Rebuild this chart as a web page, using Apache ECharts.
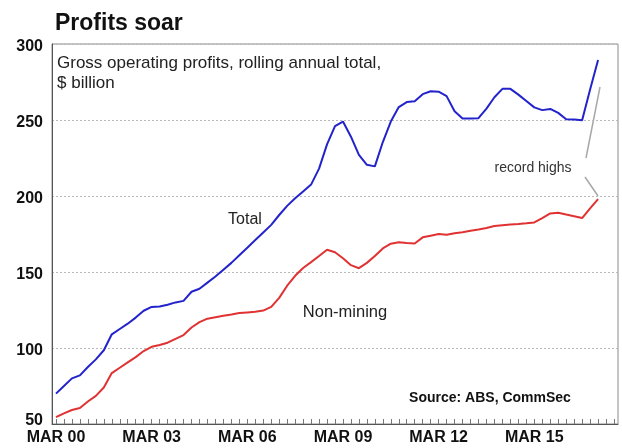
<!DOCTYPE html>
<html>
<head>
<meta charset="utf-8">
<script src="https://cdn.jsdelivr.net/npm/echarts@6/dist/echarts.min.js"></script>
<style>
html,body{margin:0;padding:0;background:#fff;}
#chart{width:622px;height:448px;}
</style>
</head>
<body>
<div id="chart"></div>
<script>
// Quarter categories Mar 2000 .. Sep 2017
var months = ['MAR', 'JUN', 'SEP', 'DEC'];
var categories = [];
for (var yr = 0; yr <= 17; yr++) {
  for (var q = 0; q < 4; q++) {
    if (yr === 17 && q > 2) break;
    categories.push(months[q] + ' ' + (yr < 10 ? '0' + yr : '' + yr));
  }
}
var tickLabels = ['MAR 00', 'MAR 03', 'MAR 06', 'MAR 09', 'MAR 12', 'MAR 15'];
var yTicks = [50, 100, 150, 200, 250, 300];

// Gross operating profits, rolling annual total, $ billion
var total = [70, 75, 80, 82, 87.5, 92.5, 98.5, 109, 112.5, 116, 120, 124.5,
  127, 127.3, 128.5, 130, 131, 137, 139, 143, 147, 151.5, 156, 161,
  166, 171, 176, 181, 187.5, 193.5, 198.5, 203, 207.5, 218, 234, 246,
  249, 239, 227, 220.5, 219.5, 235.5, 249, 258.5, 261.8, 262.4, 267, 268.9,
  268.6, 265.7, 255.8, 251, 251, 251.2, 257.5, 265, 270.5, 270.5, 266.7, 262.5,
  258.3, 256.5, 257.3, 254.7, 250.5, 250.3, 249.8, 270, 289.4];
var nonMining = [54.5, 57, 59.2, 60.5, 64.8, 68.5, 74, 83.5, 87, 90.5, 94, 98,
  100.8, 102, 103.5, 106, 108.5, 113.5, 117, 119.3, 120.3, 121.2, 122, 123,
  123.4, 123.8, 124.6, 127, 133, 141, 147.5, 152.6, 156.5, 160.5, 164.6, 163,
  159, 154.5, 152.5, 156, 160.5, 165.5, 168.6, 169.5, 169, 168.8, 172.8, 173.9,
  175, 174.5, 175.5, 176.2, 177.2, 178, 179, 180.2, 180.8, 181.3, 181.5, 182,
  182.6, 185.5, 188.5, 189, 187.8, 186.7, 185.5, 191.8, 198];

var FONT = '"Liberation Sans", Arial, sans-serif';
var chart = echarts.init(document.getElementById('chart'), null, {renderer: 'canvas'});

chart.setOption({
  animation: false,
  backgroundColor: '#ffffff',
  grid: {
    left: 52, top: 44, right: 4, bottom: 24,
    show: true, borderColor: '#8a8a8a', borderWidth: 1
  },
  xAxis: {
    type: 'category',
    data: categories,
    boundaryGap: true,
    axisLine: {show: true, lineStyle: {color: '#555', width: 1}},
    axisTick: {show: true, inside: true, length: 5, interval: 0, alignWithLabel: true,
      lineStyle: {color: '#777', width: 1}},
    axisLabel: {
      interval: function (idx, val) { return tickLabels.indexOf(val) >= 0; },
      color: '#111', fontFamily: FONT, fontWeight: 'bold', fontSize: 16, margin: 6
    },
    splitLine: {show: false}
  },
  yAxis: {
    type: 'value',
    min: yTicks[0], max: yTicks[yTicks.length - 1], interval: 50,
    axisLine: {show: true, lineStyle: {color: '#555', width: 1}},
    axisTick: {show: false},
    axisLabel: {
      color: '#111', fontFamily: FONT, fontWeight: 'bold', fontSize: 16, margin: 9,
      formatter: function (v) { return v === 50 ? '{low|' + v + '}' : '{n|' + v + '}'; },
      rich: {
        n: {fontFamily: FONT, fontWeight: 'bold', fontSize: 16, color: '#111', padding: [5, 0, 0, 0]},
        low: {fontFamily: FONT, fontWeight: 'bold', fontSize: 16, color: '#111', padding: [0, 0, 6, 0]}
      }
    },
    splitLine: {show: true, lineStyle: {color: '#b8b8b8', type: [2, 2], width: 1}}
  },
  series: [
    {
      name: 'Total', type: 'line', data: total, showSymbol: false,
      lineStyle: {color: '#2323cc', width: 2}, itemStyle: {color: '#2323cc'}, z: 3
    },
    {
      name: 'Non-mining', type: 'line', data: nonMining, showSymbol: false,
      lineStyle: {color: '#e03232', width: 2}, itemStyle: {color: '#e03232'}, z: 3
    }
  ],
  graphic: [
    {type: 'text', left: 55, top: 12,
      style: {text: 'Profits soar', font: 'bold 23px ' + FONT, fill: '#111'}},
    {type: 'text', left: 57, top: 53,
      style: {text: 'Gross operating profits, rolling annual total,\n$ billion',
        font: '17px ' + FONT, fill: '#222', lineHeight: 20}},
    {type: 'text', x: 245, y: 220,
      style: {text: 'Total', font: '16px ' + FONT, fill: '#222', align: 'center', verticalAlign: 'middle'}},
    {type: 'text', x: 345, y: 312,
      style: {text: 'Non-mining', font: '16.5px ' + FONT, fill: '#222', align: 'center', verticalAlign: 'middle'}},
    {type: 'text', x: 533, y: 168,
      style: {text: 'record highs', font: '14px ' + FONT, fill: '#333', align: 'center', verticalAlign: 'middle'}},
    {type: 'text', x: 490, y: 398,
      style: {text: 'Source: ABS, CommSec', font: 'bold 14px ' + FONT, fill: '#111', align: 'center', verticalAlign: 'middle'}},
    {type: 'line', shape: {x1: 586, y1: 158, x2: 600, y2: 87},
      style: {stroke: '#a8a8a8', lineWidth: 1.5}},
    {type: 'line', shape: {x1: 585, y1: 177, x2: 598, y2: 196},
      style: {stroke: '#a8a8a8', lineWidth: 1.5}}
  ]
});
</script>
</body>
</html>
